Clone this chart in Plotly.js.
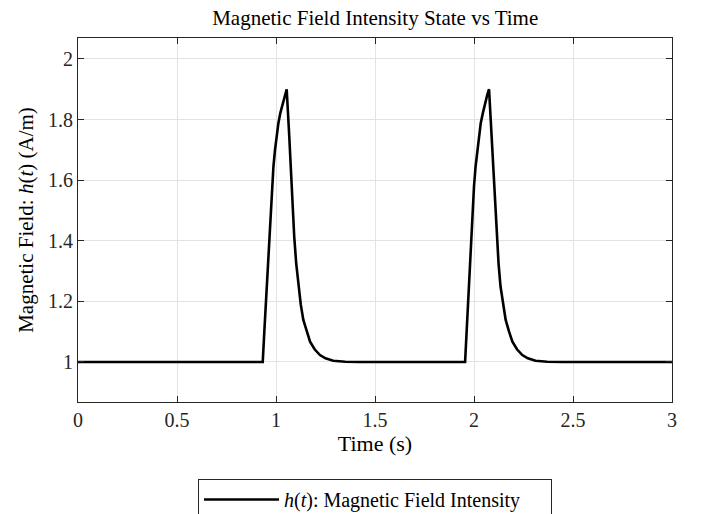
<!DOCTYPE html>
<html>
<head>
<meta charset="utf-8">
<script src="https://cdn.plot.ly/plotly-3.0.1.min.js"></script>
<style>html,body{margin:0;padding:0;background:#fff;}#chart{width:704px;height:514px;}</style>
</head>
<body>
<div id="chart"></div>
<script>
// Time samples (s)
const timeS = [0, 0.933, 0.941, 0.949, 0.957, 0.966, 0.973, 0.980, 0.987, 0.995, 1.003, 1.012, 1.022, 1.034, 1.044, 1.054,
  1.067, 1.079, 1.092, 1.102, 1.113, 1.125, 1.138, 1.155, 1.172, 1.195, 1.222, 1.25, 1.289, 1.35, 1.424,
  1.955, 1.963, 1.971, 1.978, 1.985, 1.992, 2.000, 2.008, 2.017, 2.025, 2.034, 2.045, 2.056, 2.066, 2.076,
  2.089, 2.101, 2.114, 2.124, 2.134, 2.147, 2.160, 2.177, 2.194, 2.217, 2.244, 2.272, 2.311, 2.37, 2.45, 3.0];
// Magnetic field intensity h(t) (A/m)
const fieldH = [1.0, 1.0, 1.10, 1.195, 1.31, 1.414, 1.50, 1.579, 1.645, 1.70, 1.748, 1.788, 1.822, 1.854, 1.879, 1.90,
  1.744, 1.579, 1.414, 1.325, 1.249, 1.19, 1.139, 1.10, 1.067, 1.042, 1.023, 1.012, 1.004, 1.001, 1.0,
  1.0, 1.10, 1.195, 1.31, 1.414, 1.50, 1.579, 1.645, 1.70, 1.748, 1.788, 1.822, 1.854, 1.879, 1.90,
  1.744, 1.579, 1.414, 1.325, 1.249, 1.19, 1.139, 1.10, 1.067, 1.042, 1.023, 1.012, 1.004, 1.001, 1.0, 1.0];
const xTicks = [0, 0.5, 1, 1.5, 2, 2.5, 3];
const xTickLabels = ['0', '0.5', '1', '1.5', '2', '2.5', '3'];
const yTicks = [1, 1.2, 1.4, 1.6, 1.8, 2];
const yTickLabels = ['1', '1.2', '1.4', '1.6', '1.8', '2'];

const serif = 'Liberation Serif, Times New Roman, serif';

const trace = {
  x: timeS, y: fieldH, type: 'scatter', mode: 'lines',
  line: {color: '#000000', width: 2.6},
  name: '<i>h</i>(<i>t</i>): Magnetic Field Intensity'
};

const axisCommon = {
  showline: true, linecolor: '#262626', linewidth: 1,
  mirror: 'ticks', ticks: 'inside', ticklen: 6, tickcolor: '#262626',
  showgrid: true, gridcolor: '#e3e3e3', gridwidth: 1,
  zeroline: false, automargin: true,
  tickfont: {family: serif, size: 20, color: '#262626'}
};

const layout = {
  width: 704, height: 514,
  margin: {l: 78, r: 32, t: 38, b: 112},
  paper_bgcolor: '#ffffff', plot_bgcolor: '#ffffff',
  title: {text: 'Magnetic Field Intensity State vs Time', font: {family: serif, size: 21, color: '#000'},
    x: 0.533, xanchor: 'center', y: 0.965, yanchor: 'middle'},
  xaxis: Object.assign({}, axisCommon, {
    range: [0, 3], tickvals: xTicks, ticktext: xTickLabels,
    title: {text: 'Time (s)', font: {family: serif, size: 22, color: '#000'}, standoff: 5}
  }),
  yaxis: Object.assign({}, axisCommon, {
    range: [0.868, 2.069], tickvals: yTicks, ticktext: yTickLabels,
    title: {text: 'Magnetic Field: <i>h</i>(<i>t</i>) (A/m)', font: {family: serif, size: 21, color: '#000'}, standoff: 8}
  }),
  showlegend: true,
  legend: {
    x: 0.5, xanchor: 'center', xref: 'paper',
    y: 0.068, yanchor: 'top', yref: 'container', orientation: 'h',
    itemwidth: 75, entrywidth: 262,
    bordercolor: '#262626', borderwidth: 1, bgcolor: '#ffffff',
    font: {family: serif, size: 20, color: '#000'}
  }
};

Plotly.newPlot('chart', [trace], layout, {displayModeBar: false, staticPlot: true});
</script>
</body>
</html>
